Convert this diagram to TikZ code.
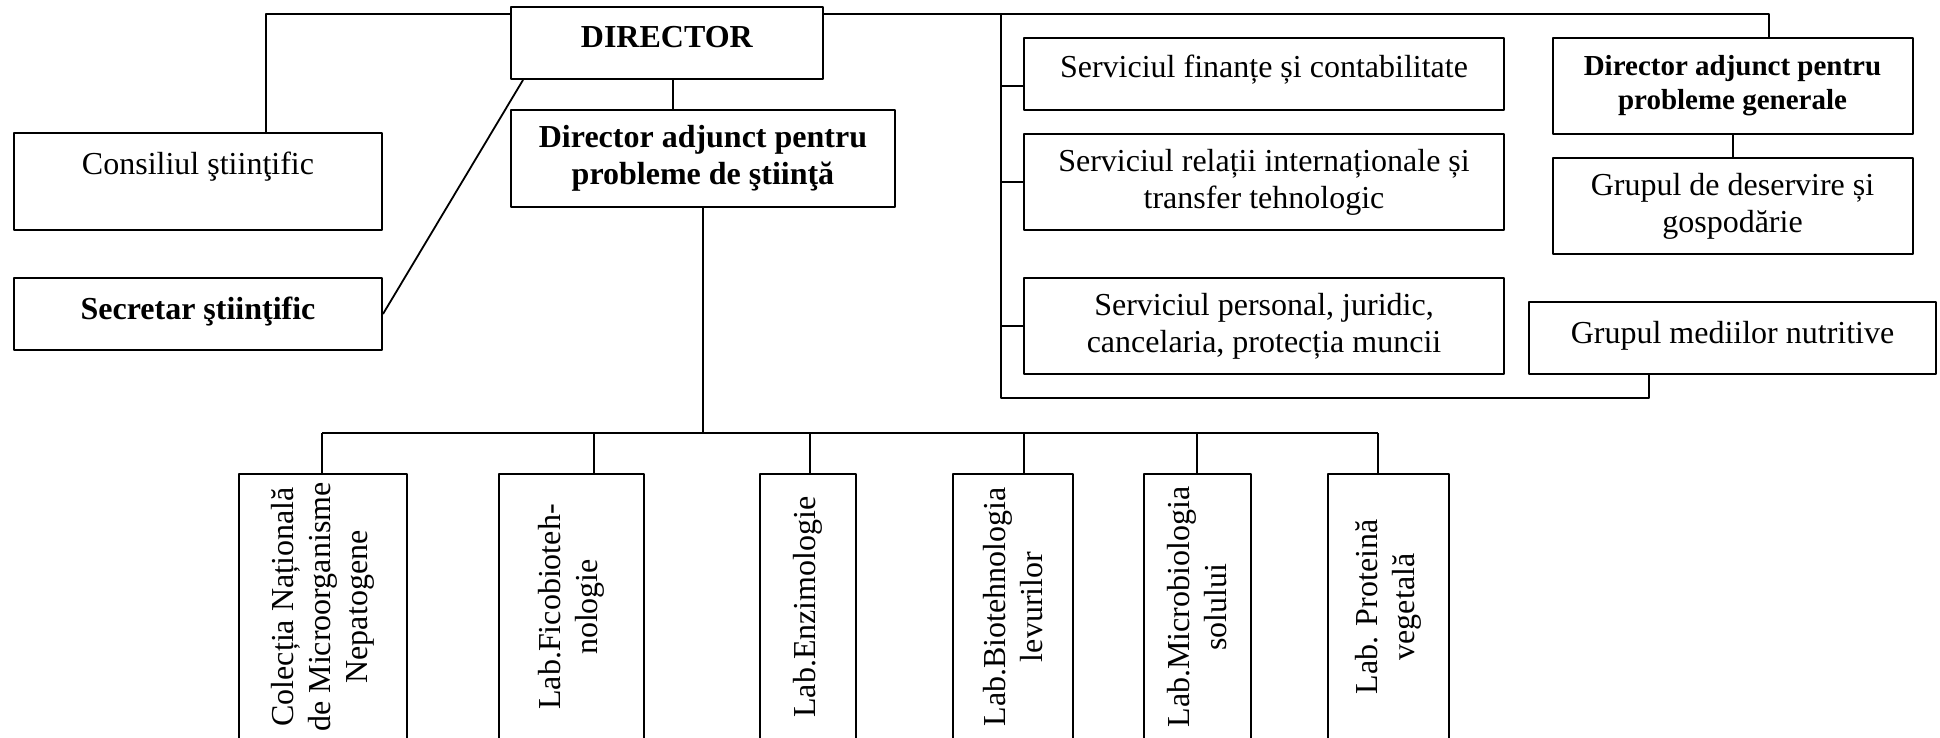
\documentclass[tikz,border=0pt]{standalone}
\usepackage{fontspec}
\setmainfont{Liberation Serif}
\usetikzlibrary{calc}
\newcommand \mylab[4]
{
\node[lab, minimum height={#3*0.5pt}] (#1) at (#2,607) {#4};
}

\begin{document}
\begin{tikzpicture}[x=0.5pt, y=-0.5pt, line join=round,
  box/.style={draw, line width=1pt, align=center, inner sep=0pt, font=\fontsize{16}{18.5}\selectfont},
  lab/.style={box, rotate=90, minimum width=133pt},
  link/.style={line width=0.9pt}]
\useasboundingbox (0,0) rectangle (1940,738);
\node[box, minimum width=156pt, minimum height=36pt, text height=20.5pt, text depth=15.5pt] (dir) at (667,43) {\textbf{DIRECTOR}};
\node[box, minimum width=184pt, minimum height=48.5pt, text height=21pt, text depth=27.5pt] (consiliu) at (198,181.5) {Consiliul ştiinţific};
\node[box, minimum width=184pt, minimum height=36pt, text height=20.5pt, text depth=15.5pt] (secretar) at (198,314) {\textbf{Secretar ştiinţific}};
\node[box, minimum width=192pt, minimum height=48.5pt] (adjstiinta) at (703,158.5) {\textbf{Director adjunct pentru}\\\textbf{probleme de ştiinţă}};
\node[box, minimum width=240pt, minimum height=36pt, text height=20pt, text depth=16pt] (finante) at (1264,74) {Serviciul finanțe și contabilitate};
\node[box, minimum width=240pt, minimum height=48pt] (relatii) at (1264,182) {Serviciul relații internaționale și\\transfer tehnologic};
\node[box, minimum width=240pt, minimum height=48pt] (personal) at (1264,326) {Serviciul personal, juridic,\\cancelaria, protecția muncii};
\node[box, minimum width=180pt, minimum height=48pt, font=\fontsize{14.5}{17}\selectfont] (adjgeneral) at (1732.5,86) {\textbf{Director adjunct pentru}\\\textbf{probleme generale}};
\node[box, minimum width=180pt, minimum height=48pt] (deservire) at (1732.5,206) {Grupul de deservire și\\gospodărie};
\node[box, minimum width=203.5pt, minimum height=36pt, text height=20.5pt, text depth=15.5pt] (mediilor) at (1732.5,338) {Grupul mediilor nutritive};
\mylab{L1}{323}{168}{Colecția Națională\\de Microorganisme\\Nepatogene}
\mylab{L2}{571.5}{145}{Lab.Ficobioteh-\\nologie}
\mylab{L3}{808}{96}{Lab.Enzimologie}
\mylab{L4}{1013}{120}{Lab.Biotehnologia\\levurilor}
\mylab{L5}{1197.5}{107}{Lab.Microbiologia\\solului}
\mylab{L6}{1388.5}{121}{Lab. Proteină\\vegetală}
\coordinate (t1) at (266,14);
\coordinate (t2) at (1769,14);
\coordinate (s1) at (1001,14);
\coordinate (s2) at (1001,398);
\coordinate (s3) at (1649,398);
\coordinate (f) at (1001,86);
\coordinate (g) at (1733,146);
\coordinate (d1) at ($(dir.south west)+(13,0)$);
\coordinate (d2) at ($(dir.south)+(6,0)$);
\coordinate (b1) at (322,433);
\coordinate (b2) at (594,433);
\coordinate (b3) at (810,433);
\coordinate (b4) at (1024,433);
\coordinate (b5) at (1197,433);
\coordinate (b6) at (1378,433);
\draw[link] (consiliu.north -| t1) -- (t1) -- (dir.west |- t1);
\draw[link] (dir.east |- t2) -- (t2) -- (adjgeneral.north -| t2);
\draw[link] (s1) -- (s2) -- (s3) -- (mediilor.south -| s3);
\draw[link] (f) -- (f -| finante.west);
\draw[link] (relatii.west -| s1) -- (relatii.west);
\draw[link] (personal.west -| s1) -- (personal.west);
\draw[link] (g |- adjgeneral.south) -- (g |- deservire.north);
\draw[link] (secretar.east) -- (d1);
\draw[link] (d2) -- (d2 |- adjstiinta.north);
\draw[link] (adjstiinta.south) -- (adjstiinta.south |- b1);
\draw[link] (b1) -- (b6);
\foreach \i in {1,...,6}
  \draw[link] (b\i) -- (b\i |- L\i.east);
\end{tikzpicture}
\end{document}
